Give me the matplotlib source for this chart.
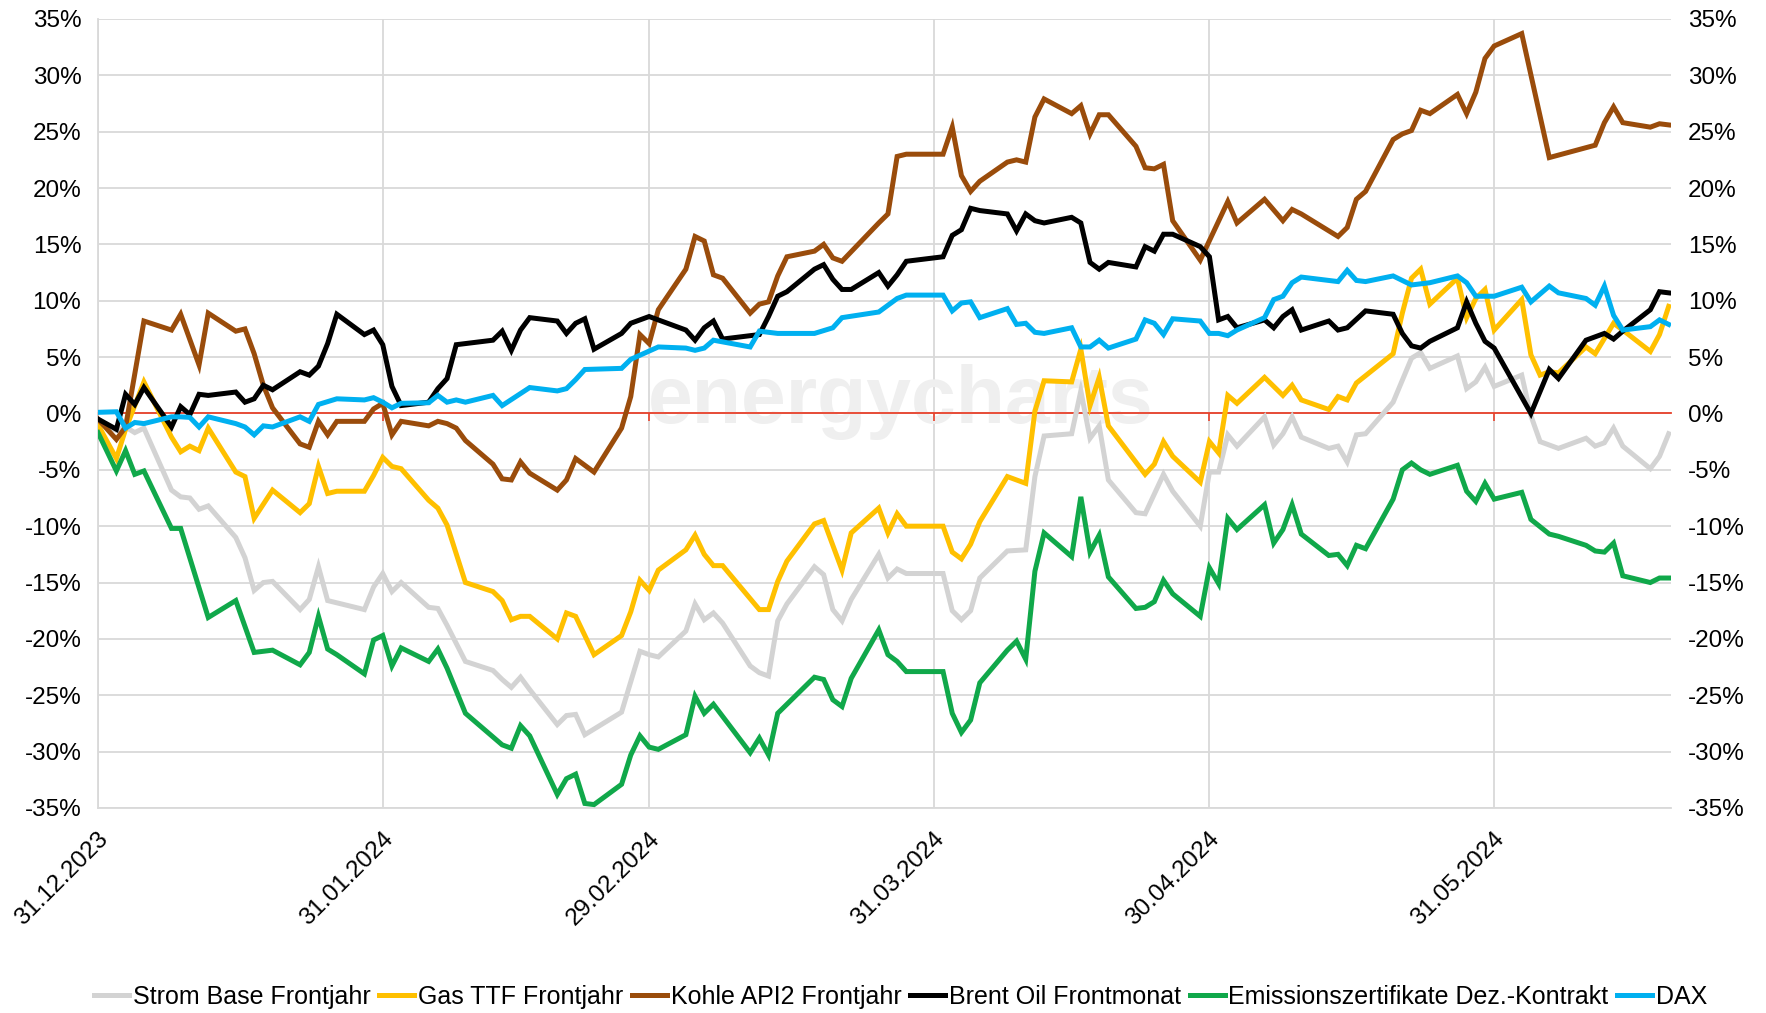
import matplotlib
matplotlib.use("Agg")
import matplotlib.pyplot as plt
import matplotlib.dates as mdates
from matplotlib.ticker import FuncFormatter, MultipleLocator
from matplotlib.transforms import ScaledTranslation
import pandas as pd

plt.rcParams["font.family"] = ["Liberation Sans", "DejaVu Sans"]

# Veraenderung seit Jahresbeginn in %
strom_dates = [
    "2023-12-31", "2024-01-02", "2024-01-03", "2024-01-04", "2024-01-05", "2024-01-08", "2024-01-09",
    "2024-01-10", "2024-01-11", "2024-01-12", "2024-01-15", "2024-01-16", "2024-01-17", "2024-01-18",
    "2024-01-19", "2024-01-22", "2024-01-23", "2024-01-24", "2024-01-25", "2024-01-29", "2024-01-30",
    "2024-01-31", "2024-02-01", "2024-02-02", "2024-02-05", "2024-02-06", "2024-02-07", "2024-02-09",
    "2024-02-12", "2024-02-13", "2024-02-14", "2024-02-15", "2024-02-16", "2024-02-19", "2024-02-20",
    "2024-02-21", "2024-02-22", "2024-02-26", "2024-02-27", "2024-02-28", "2024-02-29", "2024-03-01",
    "2024-03-04", "2024-03-05", "2024-03-06", "2024-03-07", "2024-03-08", "2024-03-11", "2024-03-12",
    "2024-03-13", "2024-03-14", "2024-03-15", "2024-03-18", "2024-03-19", "2024-03-20", "2024-03-21",
    "2024-03-22", "2024-03-25", "2024-03-26", "2024-03-27", "2024-03-28", "2024-04-01", "2024-04-02",
    "2024-04-03", "2024-04-04", "2024-04-05", "2024-04-08", "2024-04-10", "2024-04-11", "2024-04-12",
    "2024-04-15", "2024-04-16", "2024-04-17", "2024-04-18", "2024-04-19", "2024-04-22", "2024-04-23",
    "2024-04-25", "2024-04-26", "2024-04-29", "2024-04-30", "2024-05-01", "2024-05-02", "2024-05-03",
    "2024-05-06", "2024-05-07", "2024-05-08", "2024-05-09", "2024-05-10", "2024-05-13", "2024-05-14",
    "2024-05-15", "2024-05-16", "2024-05-17", "2024-05-20", "2024-05-22", "2024-05-23", "2024-05-24",
    "2024-05-27", "2024-05-28", "2024-05-29", "2024-05-30", "2024-05-31", "2024-06-03", "2024-06-04",
    "2024-06-05", "2024-06-07", "2024-06-10", "2024-06-11", "2024-06-12", "2024-06-13", "2024-06-14",
    "2024-06-17", "2024-06-18", "2024-06-19",
]
strom = [
    -0.8, -1.5, -1.2, -1.7, -1.3, -6.8, -7.4,
    -7.5, -8.5, -8.2, -11.0, -12.8, -15.7, -15.0,
    -14.9, -17.4, -16.5, -13.6, -16.6, -17.4, -15.4,
    -14.2, -15.8, -15.0, -17.2, -17.3, -18.8, -22.0,
    -22.8, -23.6, -24.3, -23.4, -24.5, -27.6, -26.8,
    -26.7, -28.5, -26.5, -23.8, -21.1, -21.4, -21.6,
    -19.3, -16.9, -18.3, -17.7, -18.6, -22.4, -23.0,
    -23.3, -18.4, -16.9, -13.6, -14.3, -17.4, -18.4,
    -16.5, -12.5, -14.6, -13.8, -14.2, -14.2, -17.5,
    -18.3, -17.5, -14.6, -12.2, -12.1, -5.6, -2.0,
    -1.8, 2.0, -2.2, -1.1, -5.9, -8.8, -8.9,
    -5.4, -6.9, -10.0, -5.2, -5.2, -1.9, -2.9,
    -0.3, -2.8, -1.8, -0.3, -2.1, -3.1, -2.9,
    -4.3, -1.9, -1.8, 1.0, 4.9, 5.4, 4.0,
    5.1, 2.2, 2.8, 4.1, 2.4, 3.4, -0.2,
    -2.5, -3.1, -2.2, -2.9, -2.6, -1.3, -2.9,
    -4.9, -3.8, -1.8,
]

gas_dates = [
    "2023-12-31", "2024-01-02", "2024-01-03", "2024-01-05", "2024-01-08", "2024-01-09", "2024-01-10",
    "2024-01-11", "2024-01-12", "2024-01-15", "2024-01-16", "2024-01-17", "2024-01-19", "2024-01-22",
    "2024-01-23", "2024-01-24", "2024-01-25", "2024-01-26", "2024-01-29", "2024-01-30", "2024-01-31",
    "2024-02-01", "2024-02-02", "2024-02-05", "2024-02-06", "2024-02-07", "2024-02-09", "2024-02-12",
    "2024-02-13", "2024-02-14", "2024-02-15", "2024-02-16", "2024-02-19", "2024-02-20", "2024-02-21",
    "2024-02-23", "2024-02-26", "2024-02-27", "2024-02-28", "2024-02-29", "2024-03-01", "2024-03-04",
    "2024-03-05", "2024-03-06", "2024-03-07", "2024-03-08", "2024-03-12", "2024-03-13", "2024-03-14",
    "2024-03-15", "2024-03-18", "2024-03-19", "2024-03-21", "2024-03-22", "2024-03-25", "2024-03-26",
    "2024-03-27", "2024-03-28", "2024-04-01", "2024-04-02", "2024-04-03", "2024-04-04", "2024-04-05",
    "2024-04-08", "2024-04-10", "2024-04-11", "2024-04-12", "2024-04-15", "2024-04-16", "2024-04-17",
    "2024-04-18", "2024-04-19", "2024-04-23", "2024-04-24", "2024-04-25", "2024-04-26", "2024-04-29",
    "2024-04-30", "2024-05-01", "2024-05-02", "2024-05-03", "2024-05-06", "2024-05-08", "2024-05-09",
    "2024-05-10", "2024-05-13", "2024-05-14", "2024-05-15", "2024-05-16", "2024-05-20", "2024-05-21",
    "2024-05-22", "2024-05-23", "2024-05-24", "2024-05-27", "2024-05-28", "2024-05-29", "2024-05-30",
    "2024-05-31", "2024-06-03", "2024-06-04", "2024-06-05", "2024-06-06", "2024-06-07", "2024-06-10",
    "2024-06-11", "2024-06-13", "2024-06-14", "2024-06-17", "2024-06-18", "2024-06-19",
]
gas = [
    -1.0, -4.0, -1.4, 2.8, -2.1, -3.4, -2.9,
    -3.3, -1.3, -5.2, -5.6, -9.3, -6.8, -8.8,
    -8.0, -4.7, -7.1, -6.9, -6.9, -5.5, -3.9,
    -4.7, -4.9, -7.7, -8.4, -9.9, -15.0, -15.8,
    -16.6, -18.3, -18.0, -18.0, -20.0, -17.7, -18.0,
    -21.4, -19.7, -17.6, -14.8, -15.7, -13.9, -12.1,
    -10.8, -12.5, -13.5, -13.5, -17.4, -17.4, -14.9,
    -13.1, -9.8, -9.5, -13.9, -10.6, -8.4, -10.6,
    -8.9, -10.0, -10.0, -12.3, -12.9, -11.6, -9.6,
    -5.6, -6.2, 0.2, 2.9, 2.8, 5.7, 0.7,
    3.2, -1.1, -5.4, -4.5, -2.5, -3.8, -6.1,
    -2.5, -3.5, 1.6, 0.9, 3.2, 1.6, 2.5,
    1.2, 0.35, 1.5, 1.2, 2.7, 5.3, 8.9,
    12.0, 12.8, 9.7, 12.0, 8.5, 10.2, 11.0,
    7.4, 10.1, 5.2, 3.4, 3.7, 3.6, 5.9,
    5.3, 8.0, 7.4, 5.5, 7.0, 9.5,
]

kohle_dates = [
    "2023-12-31", "2024-01-02", "2024-01-03", "2024-01-05", "2024-01-08", "2024-01-09", "2024-01-11",
    "2024-01-12", "2024-01-15", "2024-01-16", "2024-01-17", "2024-01-18", "2024-01-19", "2024-01-22",
    "2024-01-23", "2024-01-24", "2024-01-25", "2024-01-26", "2024-01-29", "2024-01-30", "2024-01-31",
    "2024-02-01", "2024-02-02", "2024-02-05", "2024-02-06", "2024-02-07", "2024-02-08", "2024-02-09",
    "2024-02-12", "2024-02-13", "2024-02-14", "2024-02-15", "2024-02-16", "2024-02-19", "2024-02-20",
    "2024-02-21", "2024-02-23", "2024-02-26", "2024-02-27", "2024-02-28", "2024-02-29", "2024-03-01",
    "2024-03-04", "2024-03-05", "2024-03-06", "2024-03-07", "2024-03-08", "2024-03-11", "2024-03-12",
    "2024-03-13", "2024-03-14", "2024-03-15", "2024-03-18", "2024-03-19", "2024-03-20", "2024-03-21",
    "2024-03-25", "2024-03-26", "2024-03-27", "2024-03-28", "2024-04-01", "2024-04-02", "2024-04-03",
    "2024-04-04", "2024-04-05", "2024-04-08", "2024-04-09", "2024-04-10", "2024-04-11", "2024-04-12",
    "2024-04-15", "2024-04-16", "2024-04-17", "2024-04-18", "2024-04-19", "2024-04-22", "2024-04-23",
    "2024-04-24", "2024-04-25", "2024-04-26", "2024-04-29", "2024-05-02", "2024-05-03", "2024-05-06",
    "2024-05-08", "2024-05-09", "2024-05-10", "2024-05-14", "2024-05-15", "2024-05-16", "2024-05-17",
    "2024-05-20", "2024-05-21", "2024-05-22", "2024-05-23", "2024-05-24", "2024-05-27", "2024-05-28",
    "2024-05-29", "2024-05-30", "2024-05-31", "2024-06-03", "2024-06-06", "2024-06-11", "2024-06-12",
    "2024-06-13", "2024-06-14", "2024-06-17", "2024-06-18", "2024-06-19",
]
kohle = [
    -0.5, -2.3, -1.2, 8.2, 7.4, 8.8, 4.3,
    8.9, 7.3, 7.5, 5.3, 2.5, 0.5, -2.7,
    -3.0, -0.7, -1.9, -0.7, -0.7, 0.4, 0.9,
    -1.9, -0.7, -1.1, -0.7, -0.9, -1.3, -2.4,
    -4.5, -5.8, -5.9, -4.3, -5.3, -6.8, -5.9,
    -4.0, -5.2, -1.3, 1.5, 7.0, 6.2, 9.2,
    12.8, 15.7, 15.3, 12.3, 12.0, 8.9, 9.7,
    9.9, 12.2, 13.9, 14.4, 15.0, 13.8, 13.5,
    16.9, 17.7, 22.8, 23.0, 23.0, 25.4, 21.1,
    19.7, 20.6, 22.3, 22.5, 22.3, 26.3, 27.9,
    26.6, 27.3, 24.8, 26.5, 26.5, 23.7, 21.8,
    21.7, 22.1, 17.1, 13.6, 18.8, 16.9, 19.0,
    17.1, 18.1, 17.7, 15.7, 16.5, 19.0, 19.7,
    24.3, 24.8, 25.1, 26.9, 26.6, 28.3, 26.6,
    28.5, 31.5, 32.6, 33.7, 22.7, 23.8, 25.8,
    27.2, 25.8, 25.4, 25.7, 25.6,
]

brent_dates = [
    "2023-12-31", "2024-01-02", "2024-01-03", "2024-01-04", "2024-01-05", "2024-01-08", "2024-01-09",
    "2024-01-10", "2024-01-11", "2024-01-12", "2024-01-15", "2024-01-16", "2024-01-17", "2024-01-18",
    "2024-01-19", "2024-01-22", "2024-01-23", "2024-01-24", "2024-01-25", "2024-01-26", "2024-01-29",
    "2024-01-30", "2024-01-31", "2024-02-01", "2024-02-02", "2024-02-05", "2024-02-06", "2024-02-07",
    "2024-02-08", "2024-02-12", "2024-02-13", "2024-02-14", "2024-02-15", "2024-02-16", "2024-02-19",
    "2024-02-20", "2024-02-21", "2024-02-22", "2024-02-23", "2024-02-26", "2024-02-27", "2024-02-29",
    "2024-03-04", "2024-03-05", "2024-03-06", "2024-03-07", "2024-03-08", "2024-03-12", "2024-03-13",
    "2024-03-14", "2024-03-15", "2024-03-18", "2024-03-19", "2024-03-20", "2024-03-21", "2024-03-22",
    "2024-03-25", "2024-03-26", "2024-03-27", "2024-03-28", "2024-04-01", "2024-04-02", "2024-04-03",
    "2024-04-04", "2024-04-05", "2024-04-08", "2024-04-09", "2024-04-10", "2024-04-11", "2024-04-12",
    "2024-04-15", "2024-04-16", "2024-04-17", "2024-04-18", "2024-04-19", "2024-04-22", "2024-04-23",
    "2024-04-24", "2024-04-25", "2024-04-26", "2024-04-29", "2024-04-30", "2024-05-01", "2024-05-02",
    "2024-05-03", "2024-05-06", "2024-05-07", "2024-05-08", "2024-05-09", "2024-05-10", "2024-05-13",
    "2024-05-14", "2024-05-15", "2024-05-17", "2024-05-20", "2024-05-21", "2024-05-22", "2024-05-23",
    "2024-05-24", "2024-05-27", "2024-05-28", "2024-05-29", "2024-05-30", "2024-05-31", "2024-06-04",
    "2024-06-06", "2024-06-07", "2024-06-10", "2024-06-12", "2024-06-13", "2024-06-14", "2024-06-17",
    "2024-06-18", "2024-06-19",
]
brent = [
    -0.5, -1.4, 1.7, 0.8, 2.3, -1.2, 0.6,
    -0.1, 1.7, 1.6, 1.9, 1.0, 1.3, 2.5,
    2.1, 3.7, 3.4, 4.2, 6.2, 8.8, 7.0,
    7.4, 6.1, 2.4, 0.7, 1.0, 2.2, 3.1,
    6.1, 6.5, 7.3, 5.6, 7.4, 8.5, 8.2,
    7.1, 8.0, 8.4, 5.7, 7.1, 8.0, 8.6,
    7.4, 6.5, 7.6, 8.2, 6.6, 7.0, 8.6,
    10.4, 10.8, 12.8, 13.2, 11.9, 11.0, 11.0,
    12.5, 11.3, 12.3, 13.5, 13.9, 15.8, 16.3,
    18.2, 18.0, 17.7, 16.2, 17.7, 17.1, 16.9,
    17.4, 16.9, 13.4, 12.8, 13.4, 13.0, 14.8,
    14.4, 15.9, 15.9, 14.8, 13.9, 8.3, 8.6,
    7.6, 8.3, 7.6, 8.6, 9.2, 7.4, 8.2,
    7.4, 7.6, 9.1, 8.8, 7.1, 6.0, 5.8,
    6.4, 7.6, 9.9, 8.0, 6.4, 5.8, 0.0,
    3.9, 3.1, 6.5, 7.1, 6.6, 7.3, 9.2,
    10.8, 10.7,
]

eua_dates = [
    "2023-12-31", "2024-01-02", "2024-01-03", "2024-01-04", "2024-01-05", "2024-01-08", "2024-01-09",
    "2024-01-12", "2024-01-15", "2024-01-17", "2024-01-19", "2024-01-22", "2024-01-23", "2024-01-24",
    "2024-01-25", "2024-01-26", "2024-01-29", "2024-01-30", "2024-01-31", "2024-02-01", "2024-02-02",
    "2024-02-05", "2024-02-06", "2024-02-07", "2024-02-09", "2024-02-13", "2024-02-14", "2024-02-15",
    "2024-02-16", "2024-02-19", "2024-02-20", "2024-02-21", "2024-02-22", "2024-02-23", "2024-02-26",
    "2024-02-27", "2024-02-28", "2024-02-29", "2024-03-01", "2024-03-04", "2024-03-05", "2024-03-06",
    "2024-03-07", "2024-03-11", "2024-03-12", "2024-03-13", "2024-03-14", "2024-03-18", "2024-03-19",
    "2024-03-20", "2024-03-21", "2024-03-22", "2024-03-25", "2024-03-26", "2024-03-27", "2024-03-28",
    "2024-04-01", "2024-04-02", "2024-04-03", "2024-04-04", "2024-04-05", "2024-04-08", "2024-04-09",
    "2024-04-10", "2024-04-11", "2024-04-12", "2024-04-15", "2024-04-16", "2024-04-17", "2024-04-18",
    "2024-04-19", "2024-04-22", "2024-04-23", "2024-04-24", "2024-04-25", "2024-04-26", "2024-04-29",
    "2024-04-30", "2024-05-01", "2024-05-02", "2024-05-03", "2024-05-06", "2024-05-07", "2024-05-08",
    "2024-05-09", "2024-05-10", "2024-05-13", "2024-05-14", "2024-05-15", "2024-05-16", "2024-05-17",
    "2024-05-20", "2024-05-21", "2024-05-22", "2024-05-23", "2024-05-24", "2024-05-27", "2024-05-28",
    "2024-05-29", "2024-05-30", "2024-05-31", "2024-06-03", "2024-06-04", "2024-06-06", "2024-06-07",
    "2024-06-10", "2024-06-11", "2024-06-12", "2024-06-13", "2024-06-14", "2024-06-17", "2024-06-18",
    "2024-06-19",
]
eua = [
    -1.7, -5.1, -3.3, -5.4, -5.1, -10.2, -10.2,
    -18.1, -16.6, -21.2, -21.0, -22.3, -21.2, -18.0,
    -20.9, -21.4, -23.1, -20.1, -19.7, -22.4, -20.8,
    -22.0, -20.9, -22.6, -26.6, -29.4, -29.7, -27.7,
    -28.6, -33.8, -32.4, -32.0, -34.6, -34.7, -32.9,
    -30.3, -28.6, -29.6, -29.8, -28.5, -25.1, -26.6,
    -25.8, -30.1, -28.8, -30.3, -26.6, -23.4, -23.6,
    -25.4, -26.0, -23.5, -19.2, -21.4, -22.0, -22.9,
    -22.9, -26.6, -28.3, -27.2, -23.9, -21.0, -20.2,
    -21.8, -14.0, -10.6, -12.7, -7.4, -12.3, -10.8,
    -14.5, -17.3, -17.2, -16.7, -14.8, -16.0, -18.0,
    -13.7, -15.1, -9.3, -10.3, -8.1, -11.5, -10.3,
    -8.1, -10.7, -12.6, -12.5, -13.5, -11.7, -12.0,
    -7.6, -5.0, -4.4, -5.0, -5.4, -4.6, -6.9,
    -7.8, -6.2, -7.6, -7.0, -9.4, -10.7, -10.9,
    -11.7, -12.2, -12.3, -11.5, -14.4, -15.0, -14.6,
    -14.6,
]

dax_dates = [
    "2023-12-31", "2024-01-02", "2024-01-03", "2024-01-04", "2024-01-05", "2024-01-08", "2024-01-09",
    "2024-01-10", "2024-01-11", "2024-01-12", "2024-01-15", "2024-01-16", "2024-01-17", "2024-01-18",
    "2024-01-19", "2024-01-22", "2024-01-23", "2024-01-24", "2024-01-26", "2024-01-29", "2024-01-30",
    "2024-01-31", "2024-02-01", "2024-02-02", "2024-02-05", "2024-02-06", "2024-02-07", "2024-02-08",
    "2024-02-09", "2024-02-12", "2024-02-13", "2024-02-16", "2024-02-19", "2024-02-20", "2024-02-21",
    "2024-02-22", "2024-02-26", "2024-02-27", "2024-03-01", "2024-03-04", "2024-03-05", "2024-03-06",
    "2024-03-07", "2024-03-11", "2024-03-12", "2024-03-14", "2024-03-18", "2024-03-20", "2024-03-21",
    "2024-03-25", "2024-03-27", "2024-03-28", "2024-04-01", "2024-04-02", "2024-04-03", "2024-04-04",
    "2024-04-05", "2024-04-08", "2024-04-09", "2024-04-10", "2024-04-11", "2024-04-12", "2024-04-15",
    "2024-04-16", "2024-04-17", "2024-04-18", "2024-04-19", "2024-04-22", "2024-04-23", "2024-04-24",
    "2024-04-25", "2024-04-26", "2024-04-29", "2024-04-30", "2024-05-01", "2024-05-02", "2024-05-03",
    "2024-05-06", "2024-05-07", "2024-05-08", "2024-05-09", "2024-05-10", "2024-05-14", "2024-05-15",
    "2024-05-16", "2024-05-17", "2024-05-20", "2024-05-22", "2024-05-24", "2024-05-27", "2024-05-28",
    "2024-05-29", "2024-05-31", "2024-06-03", "2024-06-04", "2024-06-06", "2024-06-07", "2024-06-10",
    "2024-06-11", "2024-06-12", "2024-06-13", "2024-06-14", "2024-06-17", "2024-06-18", "2024-06-19",
]
dax = [
    0.1, 0.15, -1.3, -0.8, -0.9, -0.3, -0.3,
    -0.35, -1.2, -0.3, -0.9, -1.2, -1.9, -1.1,
    -1.2, -0.3, -0.7, 0.8, 1.3, 1.2, 1.4,
    1.0, 0.5, 0.9, 0.95, 1.6, 1.0, 1.2,
    1.0, 1.6, 0.7, 2.3, 2.0, 2.2, 3.0,
    3.9, 4.0, 4.8, 5.9, 5.8, 5.6, 5.8,
    6.5, 5.9, 7.3, 7.1, 7.1, 7.6, 8.5,
    9.0, 10.2, 10.5, 10.5, 9.1, 9.8, 9.9,
    8.5, 9.3, 7.9, 8.0, 7.2, 7.1, 7.6,
    5.9, 5.9, 6.5, 5.8, 6.6, 8.3, 8.0,
    7.0, 8.4, 8.2, 7.1, 7.1, 6.9, 7.4,
    8.5, 10.1, 10.4, 11.6, 12.1, 11.7, 12.7,
    11.8, 11.7, 12.2, 11.4, 11.6, 12.2, 11.6,
    10.4, 10.4, 11.2, 9.9, 11.3, 10.7, 10.2,
    9.6, 11.3, 8.7, 7.4, 7.7, 8.3, 7.9,
]

labels = [
    "Strom Base Frontjahr",
    "Gas TTF Frontjahr",
    "Kohle API2 Frontjahr",
    "Brent Oil Frontmonat",
    "Emissionszertifikate Dez.-Kontrakt",
    "DAX",
]
colors = ["#d3d3d3", "#ffc000", "#9a4c0b", "#000000", "#10a84a", "#00b0f0"]
series = [
    (strom_dates, strom),
    (gas_dates, gas),
    (kohle_dates, kohle),
    (brent_dates, brent),
    (eua_dates, eua),
    (dax_dates, dax),
]

tick_dates = ["2023-12-31", "2024-01-31", "2024-02-29", "2024-03-31", "2024-04-30", "2024-05-31"]


def main():
    fig = plt.figure(figsize=(17.66, 10.13), dpi=100)
    ax = fig.add_axes([0.0555, 0.2024, 0.8907, 0.7789])

    for (d, v), lab, col in zip(series, labels, colors):
        ax.plot(pd.to_datetime(d), v, color=col, lw=3.6, label=lab,
                solid_joinstyle="miter", zorder=3)

    ax.set_ylim(-35, 35)
    ax.set_xlim(pd.Timestamp("2023-12-31"), pd.Timestamp("2024-06-19 06:00"))
    ax.yaxis.set_major_locator(MultipleLocator(5))
    ax.yaxis.set_major_formatter(FuncFormatter(lambda v, p: f"{v:.0f}%"))

    ticks = pd.to_datetime(tick_dates)
    ax.set_xticks(ticks)
    ax.xaxis.set_major_formatter(mdates.DateFormatter("%d.%m.%Y"))

    ax.grid(True, color="#d9d9d9", lw=1.3)
    ax.set_axisbelow(True)
    for s in ["top", "right"]:
        ax.spines[s].set_visible(False)
    for s in ["left", "bottom"]:
        ax.spines[s].set_color("#d9d9d9")
        ax.spines[s].set_linewidth(1.3)

    ax.tick_params(axis="y", length=0, labelsize=17.5, pad=12,
                   labelleft=True, labelright=True)
    ax.tick_params(axis="x", length=0, labelsize=17.5, pad=20)
    for lab in ax.get_xticklabels():
        lab.set_rotation(45)
        lab.set_ha("right")
        lab.set_va("center")
        lab.set_rotation_mode("anchor")
        lab.set_transform(lab.get_transform() + ScaledTranslation(0.07, 0, fig.dpi_scale_trans))

    # rote Nulllinie mit kleinen Teilstrichen nach unten
    sec = ax.secondary_xaxis(0.5)
    sec.set_alignment("bottom")
    sec.set_xticks(ticks)
    sec.set_xticklabels([])
    for sp in sec.spines.values():
        sp.set_color("#e8402a")
        sp.set_linewidth(1.3)
    sec.tick_params(axis="x", colors="#e8402a", length=6, width=1.2, direction="out")
    sec.set_zorder(2)

    ax.text(0.51, 0.515, "energycharts", transform=ax.transAxes, ha="center", va="center",
            fontsize=58, fontweight="bold", color="#efefef", zorder=1)

    fig.legend(loc="lower center", bbox_to_anchor=(0.51, -0.018), ncol=6, frameon=False,
               fontsize=18, handlelength=1.4, handletextpad=0.15, columnspacing=0.35)

    fig.savefig("out.png", dpi=100)


if __name__ == "__main__":
    main()
